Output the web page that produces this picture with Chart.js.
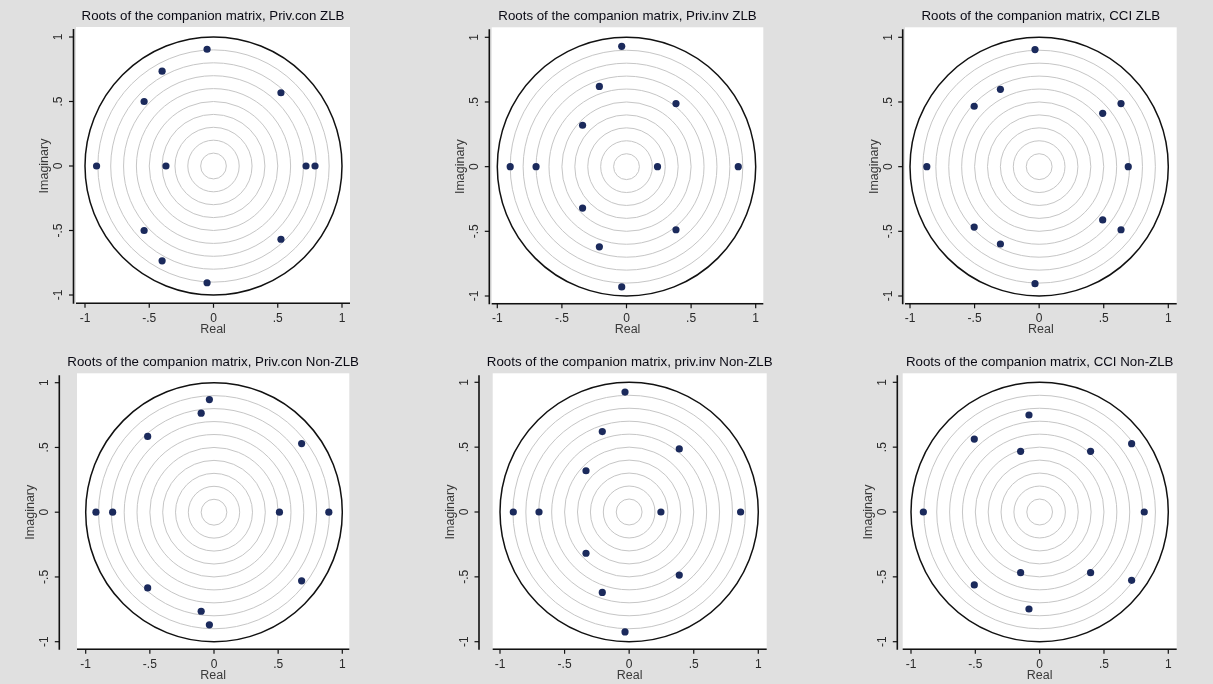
<!DOCTYPE html>
<html><head><meta charset="utf-8">
<script src="https://cdn.jsdelivr.net/npm/chart.js@4.4.1/dist/chart.umd.min.js"></script>
<style>
html,body{margin:0;padding:0;background:#e0e0e0;}
#wrap{position:relative;width:1213px;height:684px;overflow:hidden;background:#e0e0e0;}
#wrap canvas{position:absolute;left:0;top:0;}
</style></head><body><div id="wrap"></div>
<script>
// ---- data ----
const panelTitles = [
  'Roots of the companion matrix, Priv.con ZLB',
  'Roots of the companion matrix, Priv.inv ZLB',
  'Roots of the companion matrix, CCI ZLB',
  'Roots of the companion matrix, Priv.con Non-ZLB',
  'Roots of the companion matrix, priv.inv Non-ZLB',
  'Roots of the companion matrix, CCI Non-ZLB'
];
const pconZlbRe = [-0.05, -0.05, -0.40, -0.40, 0.525, 0.525, -0.54, -0.54, -0.91, -0.37, 0.72, 0.79];
const pconZlbIm = [0.905, -0.905, 0.735, -0.735, 0.568, -0.568, 0.50, -0.50, 0, 0, 0, 0];
const pinvZlbRe = [-0.037, -0.037, -0.21, -0.21, 0.383, 0.383, -0.34, -0.34, -0.90, -0.70, 0.24, 0.865];
const pinvZlbIm = [0.93, -0.93, 0.62, -0.62, 0.488, -0.488, 0.32, -0.32, 0, 0, 0, 0];
const cciZlbRe = [-0.032, -0.032, -0.30, -0.30, 0.634, 0.634, -0.503, -0.503, 0.492, 0.492, -0.87, 0.69];
const cciZlbIm = [0.905, -0.905, 0.598, -0.598, 0.488, -0.488, 0.467, -0.467, 0.412, -0.412, 0, 0];
const pconNzlbRe = [-0.036, -0.036, -0.10, -0.10, -0.517, -0.517, 0.683, 0.683, -0.92, -0.79, 0.51, 0.895];
const pconNzlbIm = [0.87, -0.87, 0.765, -0.765, 0.585, -0.585, 0.53, -0.53, 0, 0, 0, 0];
const pinvNzlbRe = [-0.032, -0.032, -0.208, -0.208, 0.388, 0.388, -0.334, -0.334, -0.897, -0.698, 0.246, 0.863];
const pinvNzlbIm = [0.925, -0.925, 0.62, -0.62, 0.486, -0.486, 0.318, -0.318, 0, 0, 0, 0];
const cciNzlbRe = [-0.083, -0.083, -0.508, -0.508, 0.715, 0.715, -0.148, -0.148, 0.396, 0.396, -0.904, 0.813];
const cciNzlbIm = [0.748, -0.748, 0.562, -0.562, 0.527, -0.527, 0.468, -0.468, 0.468, -0.468, 0, 0];
const seriesRe = [pconZlbRe, pinvZlbRe, cciZlbRe, pconNzlbRe, pinvNzlbRe, cciNzlbRe];
const seriesIm = [pconZlbIm, pinvZlbIm, cciZlbIm, pconNzlbIm, pinvNzlbIm, cciNzlbIm];
const tickValues = [-1, -0.5, 0, 0.5, 1];
const tickLabels = ['-1', '-.5', '0', '.5', '1'];
const ringRadii = [0.1, 0.2, 0.3, 0.4, 0.5, 0.6, 0.7, 0.8, 0.9];
const unitRadius = 1;
const xTitle = 'Real';
const yTitle = 'Imaginary';

// ---- layout (page pixels) ----
const W = 1213, H = 684;
const layouts = [
  {box:[76,27,350,302.5],       xt:[85,342],      yt:[37,295],      yAxisX:73.5,  xAxisY:303.3},
  {box:[491.7,27.3,763.3,302.7],xt:[497.3,755.7], yt:[37.3,296],    yAxisX:489.3, xAxisY:303.8},
  {box:[905,27.3,1176.7,302.7], xt:[910,1168.3],  yt:[37.3,296],    yAxisX:902.7, xAxisY:303.8},
  {box:[77,373.3,349.3,648.3],  xt:[85.7,342.3],  yt:[382.7,641.7], yAxisX:59.3,  xAxisY:649.3},
  {box:[492.7,373.3,766.7,648.3],xt:[500,758.3],  yt:[382.3,641.7], yAxisX:479,   xAxisY:649.3},
  {box:[902.7,373.3,1176.7,648.3],xt:[911,1168.3],yt:[382.3,641.7], yAxisX:897.3, xAxisY:649.3}
];
const FONT = '"Liberation Sans", Arial, sans-serif';
const markerColor = '#1b2a5c';

const stataPlugin = {
  id: 'stata',
  beforeDraw(chart) {
    const L = chart.options.plugins.stata.layout;
    const ctx = chart.ctx, a = chart.chartArea;
    const xs = chart.scales.x, ys = chart.scales.y;
    ctx.save();
    ctx.fillStyle = '#ffffff';
    ctx.fillRect(a.left, a.top, a.right - a.left, a.bottom - a.top);
    const cx = xs.getPixelForValue(0), cy = ys.getPixelForValue(0);
    ctx.lineWidth = 1;
    ctx.strokeStyle = '#c6c6c6';
    ringRadii.forEach(r => {
      const rx = xs.getPixelForValue(r) - cx, ry = cy - ys.getPixelForValue(r);
      ctx.beginPath(); ctx.ellipse(cx, cy, rx, ry, 0, 0, Math.PI * 2); ctx.stroke();
    });
    ctx.strokeStyle = '#111111';
    ctx.lineWidth = 1.5;
    const rx = xs.getPixelForValue(unitRadius) - cx, ry = cy - ys.getPixelForValue(unitRadius);
    ctx.beginPath(); ctx.ellipse(cx, cy, rx, ry, 0, 0, Math.PI * 2); ctx.stroke();
    ctx.restore();
  },
  afterDraw(chart) {
    const o = chart.options.plugins.stata;
    const L = o.layout;
    const ctx = chart.ctx, a = chart.chartArea;
    const xs = chart.scales.x, ys = chart.scales.y;
    ctx.save();
    ctx.strokeStyle = '#111111';
    ctx.lineWidth = 1.6;
    // y axis line
    ctx.beginPath(); ctx.moveTo(L.yAxisX, a.top + 2); ctx.lineTo(L.yAxisX, L.xAxisY + 0.5); ctx.stroke();
    // x axis line
    ctx.beginPath(); ctx.moveTo(a.left, L.xAxisY); ctx.lineTo(a.right, L.xAxisY); ctx.stroke();
    ctx.lineWidth = 1.2;
    ctx.fillStyle = '#2a2a2a';
    ctx.font = '12px ' + FONT;
    ctx.textAlign = 'center'; ctx.textBaseline = 'middle';
    tickValues.forEach((v, i) => {
      const px = xs.getPixelForValue(v);
      ctx.beginPath(); ctx.moveTo(px, L.xAxisY); ctx.lineTo(px, L.xAxisY + 4.5); ctx.stroke();
      ctx.fillText(tickLabels[i], px, L.xAxisY + 15);
      const py = ys.getPixelForValue(v);
      ctx.beginPath(); ctx.moveTo(L.yAxisX, py); ctx.lineTo(L.yAxisX - 4.5, py); ctx.stroke();
      ctx.save(); ctx.translate(L.yAxisX - 14.5, py); ctx.rotate(-Math.PI / 2);
      ctx.fillText(tickLabels[i], 0, 0); ctx.restore();
    });
    ctx.fillStyle = '#3a3a3a';
    ctx.font = '12.5px ' + FONT;
    ctx.fillText(xTitle, (a.left + a.right) / 2, L.xAxisY + 26);
    ctx.save(); ctx.translate(L.yAxisX - 28.5, ys.getPixelForValue(0)); ctx.rotate(-Math.PI / 2);
    ctx.fillText(yTitle, 0, 0); ctx.restore();
    ctx.fillStyle = '#0a0a14';
    ctx.font = '13.3px ' + FONT;
    ctx.fillText(o.title, (a.left + a.right) / 2, a.top - 10.5);
    ctx.restore();
  }
};

const wrap = document.getElementById('wrap');
layouts.forEach((L, k) => {
  const cv = document.createElement('canvas');
  cv.width = W; cv.height = H;
  cv.style.width = W + 'px'; cv.style.height = H + 'px';
  wrap.appendChild(cv);
  const [bl, bt, br, bb] = L.box;
  const ppx = (L.xt[1] - L.xt[0]) / 2, ppy = (L.yt[1] - L.yt[0]) / 2;
  const xmin = -1 - (L.xt[0] - bl) / ppx, xmax = 1 + (br - L.xt[1]) / ppx;
  const ymax = 1 + (L.yt[0] - bt) / ppy, ymin = -1 - (bb - L.yt[1]) / ppy;
  const pts = seriesRe[k].map((x, i) => ({x: x, y: seriesIm[k][i]}));
  new Chart(cv, {
    type: 'scatter',
    data: { datasets: [{ data: pts, backgroundColor: markerColor, borderWidth: 0, pointRadius: 3.6, pointHoverRadius: 3.6 }] },
    options: {
      responsive: false, maintainAspectRatio: false, animation: false, devicePixelRatio: 1,
      events: [],
      layout: { padding: { left: bl, top: bt, right: W - br, bottom: H - bb } },
      scales: {
        x: { type: 'linear', min: xmin, max: xmax, display: false },
        y: { type: 'linear', min: ymin, max: ymax, display: false }
      },
      plugins: { legend: { display: false }, tooltip: { enabled: false }, title: { display: false },
        stata: { layout: L, title: panelTitles[k] } }
    },
    plugins: [stataPlugin]
  });
});
</script></body></html>
